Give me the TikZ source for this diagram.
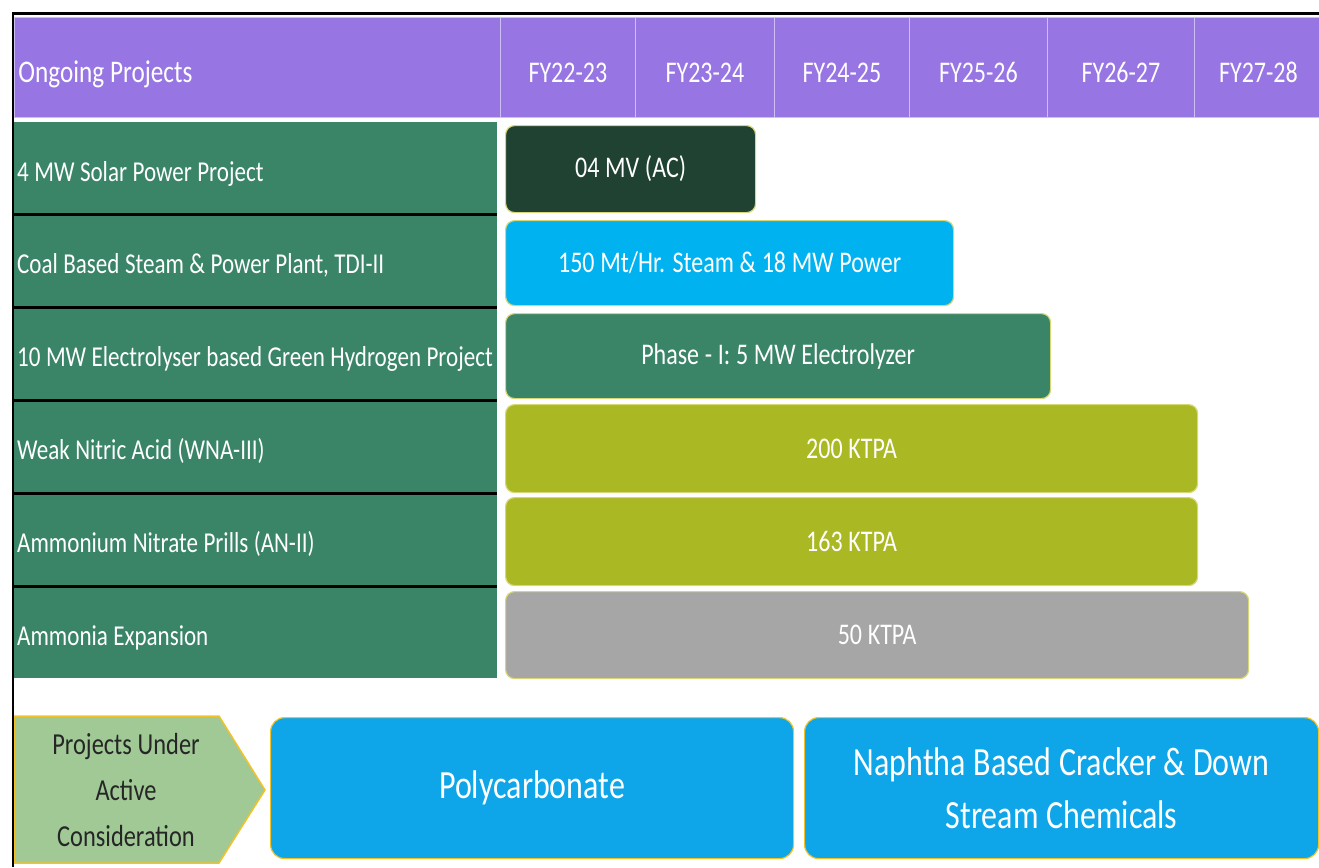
\documentclass[tikz,border=0pt]{standalone}
\usepackage{fontspec}
\setmainfont[FakeStretch=0.8,WordSpace=1.05]{Carlito}
\definecolor{headpurple}{RGB}{151,118,228}
\definecolor{headline}{RGB}{205,190,245}
\definecolor{rowgreen}{RGB}{58,133,104}
\definecolor{darkbar}{RGB}{31,66,50}
\definecolor{bluebar}{RGB}{0,178,240}
\definecolor{bluebox}{RGB}{14,165,233}
\definecolor{olivebar}{RGB}{170,184,35}
\definecolor{graybar}{RGB}{166,166,166}
\definecolor{barline}{RGB}{215,215,120}
\definecolor{pentfill}{RGB}{160,201,150}
\definecolor{pentline}{RGB}{242,195,40}
\newcommand{\leftlabel}[1]{\makebox[477pt][l]{#1}}
\tikzset{
  headcell/.style={fill=headpurple, draw=headline, line width=0.8pt, text=white,
    font=\fontsize{30}{34}\selectfont, anchor=north west, minimum height=100pt, inner sep=0pt,
    text height=30pt, text depth=0pt},
  projrow/.style={fill=rowgreen, text=white, font=\fontsize{28.8}{32}\selectfont,
    anchor=north west, inner xsep=3pt, inner ysep=0pt, minimum width=483pt,
    text height=26pt, text depth=0pt},
  sepline/.style={line width=2.5pt, black},
  bar/.style={rounded corners=9pt, draw=barline, line width=1.2pt, text=white,
    font=\fontsize{30}{34}\selectfont, anchor=north west, inner sep=0pt},
  bigbox/.style={rounded corners=14pt, fill=bluebox, draw=pentline, line width=1.2pt, text=white,
    font=\fontsize{40}{53}\selectfont, anchor=north west, inner sep=0pt, align=center}
}
\begin{document}
\begin{tikzpicture}[x=1pt,y=-1pt]

  \useasboundingbox (0,0) rectangle (1319,867);

  % header
  \draw (14,17) node [headcell, minimum width=486pt, inner xsep=4pt,
    font=\fontsize{31.5}{36}\selectfont] (ongoing)
  {\makebox[478pt][l]{Ongoing Projects}};
  \draw (500,17) node [headcell, minimum width=135pt] (fy1) {FY22-23};
  \draw (635,17) node [headcell, minimum width=139pt] (fy2) {FY23-24};
  \draw (774,17) node [headcell, minimum width=135pt] (fy3) {FY24-25};
  \draw (909,17) node [headcell, minimum width=138pt] (fy4) {FY25-26};
  \draw (1047,17) node [headcell, minimum width=147pt] (fy5) {FY26-27};
  \draw (1194,17) node [headcell, minimum width=128pt] (fy6) {FY27-28};

  % project names
  \draw (14,122) node [projrow, minimum height=92pt] (solar) {\leftlabel{4 MW Solar Power Project}};
  \draw (14,214) node [projrow, minimum height=93pt] (coal) {\leftlabel{Coal Based Steam \& Power Plant, TDI-II}};
  \draw (14,307) node [projrow, minimum height=93pt] (hydro) {\leftlabel{10 MW Electrolyser based Green Hydrogen Project}};
  \draw (14,400) node [projrow, minimum height=93pt] (wna) {\leftlabel{Weak Nitric Acid (WNA-III)}};
  \draw (14,493) node [projrow, minimum height=93pt] (anp) {\leftlabel{Ammonium Nitrate Prills (AN-II)}};
  \draw (14,586) node [projrow, minimum height=92pt] (ammonia) {\leftlabel{Ammonia Expansion}};

  \draw[sepline] (solar.south west) -- (solar.south east);
  \draw[sepline] (coal.south west) -- (coal.south east);
  \draw[sepline] (hydro.south west) -- (hydro.south east);
  \draw[sepline] (wna.south west) -- (wna.south east);
  \draw[sepline] (anp.south west) -- (anp.south east);

  % timeline bars
  \draw (505,125) node [bar, fill=darkbar, minimum width=250pt, minimum height=87pt] (solarbar)
  {04 MV (AC)};
  \draw (505,220) node [bar, fill=bluebar, minimum width=448pt, minimum height=85pt] (coalbar)
  {150 Mt/Hr. Steam \& 18 MW Power};
  \draw (505,313) node [bar, fill=rowgreen, minimum width=545pt, minimum height=85pt] (hydrobar)
  {Phase - I: 5 MW Electrolyzer};
  \draw (505,404) node [bar, fill=olivebar, minimum width=692pt, minimum height=88pt] (wnabar)
  {200 KTPA};
  \draw (505,497) node [bar, fill=olivebar, minimum width=692pt, minimum height=88pt] (anpbar)
  {163 KTPA};
  \draw (505,591) node [bar, fill=graybar, minimum width=743pt, minimum height=87pt] (ammoniabar)
  {50 KTPA};

  % projects under consideration
  \filldraw[fill=pentfill, draw=pentline, line width=1.5pt]
    (14,716) -- (219,716) -- (265,790) -- (219,863) -- (14,863) -- cycle;
  \draw (126,790) node [font=\fontsize{30.5}{46}\selectfont, text=black!85, align=center] (pending)
  {Projects Under\\Active\\Consideration};

  \draw (270,717) node [bigbox, minimum width=523pt, minimum height=141pt] (poly)
  {Polycarbonate};
  \draw (804,717) node [bigbox, minimum width=514pt, minimum height=141pt] (naphtha)
  {Naphtha Based Cracker \& Down\\Stream Chemicals};

  % frame
  \draw[line width=2.5pt] (13,867) -- (13,13.5) -- (1319,13.5);

\end{tikzpicture}
\end{document}
